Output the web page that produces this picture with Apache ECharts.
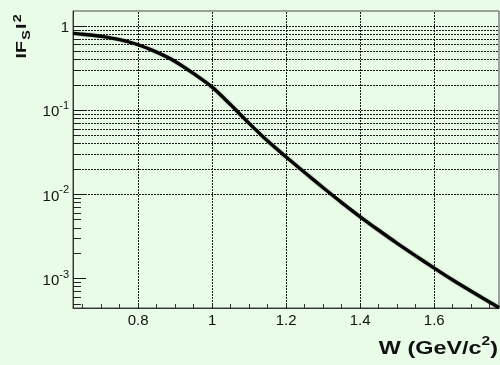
<!DOCTYPE html>
<html>
<head>
<meta charset="utf-8">
<script src="https://cdn.jsdelivr.net/npm/echarts@6/dist/echarts.min.js"></script>
<style>
  html, body { margin: 0; padding: 0; background: #e9fce8; }
  #chart { width: 500px; height: 365px; }
</style>
</head>
<body>
<div id="chart"></div>
<script>
// Form factor |F_S|^2 versus invariant mass W
const wValues = [0.624, 0.65, 0.70, 0.75, 0.80, 0.85, 0.90, 0.95, 1.00, 1.05, 1.10, 1.15, 1.20,
                 1.25, 1.30, 1.35, 1.40, 1.45, 1.50, 1.55, 1.60, 1.65, 1.70, 1.75, 1.775];
const fsSquared = [0.818, 0.80, 0.755, 0.69, 0.60, 0.49, 0.38, 0.272, 0.188, 0.116, 0.0698, 0.043, 0.0278,
                   0.0182, 0.0120, 0.0080, 0.00542, 0.00375, 0.00262, 0.00186, 0.00133, 0.00096, 0.000706, 0.000524, 0.000451];

// Axis ranges and tick positions
const xMin = 0.624, xMax = 1.775;
const yMin = 4.47e-4, yMax = 1.51;
const xLabels = [0.8, 1.0, 1.2, 1.4, 1.6];
const xMinorTicks = [0.65, 0.70, 0.75, 0.80, 0.85, 0.90, 0.95, 1.00, 1.05, 1.10, 1.15, 1.20, 1.25,
                     1.30, 1.35, 1.40, 1.45, 1.50, 1.55, 1.60, 1.65, 1.70, 1.75];
const yDecades = [0.001, 0.01, 0.1, 1];
const yExponents = ['-3', '-2', '-1', '0'];
const yGridValues = [5e-4, 6e-4, 7e-4, 8e-4, 9e-4,
                     1e-3, 2e-3, 3e-3, 4e-3, 5e-3, 6e-3, 7e-3, 8e-3, 9e-3,
                     1e-2, 2e-2, 3e-2, 4e-2, 5e-2, 6e-2, 7e-2, 8e-2, 9e-2,
                     1e-1, 2e-1, 3e-1, 4e-1, 5e-1, 6e-1, 7e-1, 8e-1, 9e-1, 1];

const bg = '#e9fce8';
const font = 'Liberation Sans, Arial, sans-serif';
const gridStyle = { color: '#1a1a1a', width: 1, type: [2, 1] };

const curve = wValues.map((w, i) => [w, fsSquared[i]]);
const gridLines = yGridValues.map(v => ({ yAxis: v }))
  .concat(xLabels.map(v => ({ xAxis: v })));

const chart = echarts.init(document.getElementById('chart'), null, { renderer: 'canvas' });
chart.setOption({
  backgroundColor: bg,
  animation: false,
  grid: {
    left: 73, right: 1, top: 11, bottom: 57,
    show: true, backgroundColor: bg, borderColor: '#4a4a4a', borderWidth: 1,
    outerBoundsMode: 'none', containLabel: false
  },
  xAxis: {
    type: 'value', min: xMin, max: xMax,
    axisLine: { show: true, lineStyle: { color: '#333', width: 1 } },
    axisTick: { show: true, inside: true, length: 4, customValues: xMinorTicks, lineStyle: { color: '#333' } },
    axisLabel: {
      customValues: xLabels, margin: 5, color: '#111', fontSize: 15, fontFamily: font,
      formatter: v => (Math.abs(v - 1) < 1e-9 ? '1' : v.toFixed(1))
    },
    splitLine: { show: false }
  },
  yAxis: [
    {
      type: 'log', logBase: 10, min: yMin, max: yMax, position: 'left',
      axisLine: { show: true, lineStyle: { color: '#333', width: 1 } },
      axisTick: { show: true, inside: true, length: 8, customValues: yGridValues, lineStyle: { color: '#222' } },
      axisLabel: {
        customValues: yDecades, margin: 4, color: '#111',
        formatter: v => {
          const i = yDecades.findIndex(d => Math.abs(d - v) / d < 1e-6);
          if (i < 0) return '';
          return yExponents[i] === '0' ? '{b|1}' : '{b|10}{s|' + yExponents[i] + '}';
        },
        rich: {
          b: { fontSize: 15, fontFamily: font, color: '#111', lineHeight: 19, verticalAlign: 'bottom' },
          s: { fontSize: 11, fontFamily: font, color: '#111', lineHeight: 19, verticalAlign: 'top' }
        }
      },
      splitLine: { show: false }
    },
    {
      type: 'log', logBase: 10, min: yMin, max: yMax, position: 'left',
      axisLine: { show: false },
      axisTick: { show: true, inside: true, length: 13, customValues: yDecades, lineStyle: { color: '#111' } },
      axisLabel: { show: false },
      splitLine: { show: false }
    }
  ],
  series: [
    {
      // dotted grid
      type: 'line', data: [], z: 1, silent: true,
      markLine: {
        silent: true, symbol: ['none', 'none'], label: { show: false },
        lineStyle: gridStyle, emphasis: { disabled: true },
        data: gridLines, animation: false
      }
    },
    {
      type: 'line', data: curve, z: 5, smooth: 0.3, showSymbol: false, symbol: 'none',
      lineStyle: { color: '#050505', width: 3.4, shadowColor: 'rgba(0,0,0,0.35)', shadowBlur: 2 }
    }
  ],
  graphic: [
    {
      type: 'text', x: 498, y: 347, scaleX: 1.3,
      style: {
        text: '{t|W (GeV/c}{p|2}{t|)}', align: 'right', verticalAlign: 'middle',
        rich: {
          t: { fontSize: 18, fontWeight: 'bold', fontFamily: font, fill: '#111', lineHeight: 22, verticalAlign: 'bottom' },
          p: { fontSize: 12, fontWeight: 'bold', fontFamily: font, fill: '#111', lineHeight: 22, verticalAlign: 'top' }
        }
      }
    },
    {
      type: 'text', x: 22, y: 37, rotation: Math.PI / 2, scaleX: 1.3,
      style: {
        text: '{t|IF}{s|S}{t|I}{p|2}', align: 'center', verticalAlign: 'middle',
        rich: {
          t: { fontSize: 15, fontWeight: 'bold', fontFamily: font, fill: '#111', lineHeight: 20, verticalAlign: 'middle', padding: [0, 1, 0, 1] },
          s: { fontSize: 11, fontWeight: 'bold', fontFamily: font, fill: '#111', lineHeight: 20, verticalAlign: 'bottom' },
          p: { fontSize: 11, fontWeight: 'bold', fontFamily: font, fill: '#111', lineHeight: 20, verticalAlign: 'top' }
        }
      }
    }
  ]
});
</script>
</body>
</html>
